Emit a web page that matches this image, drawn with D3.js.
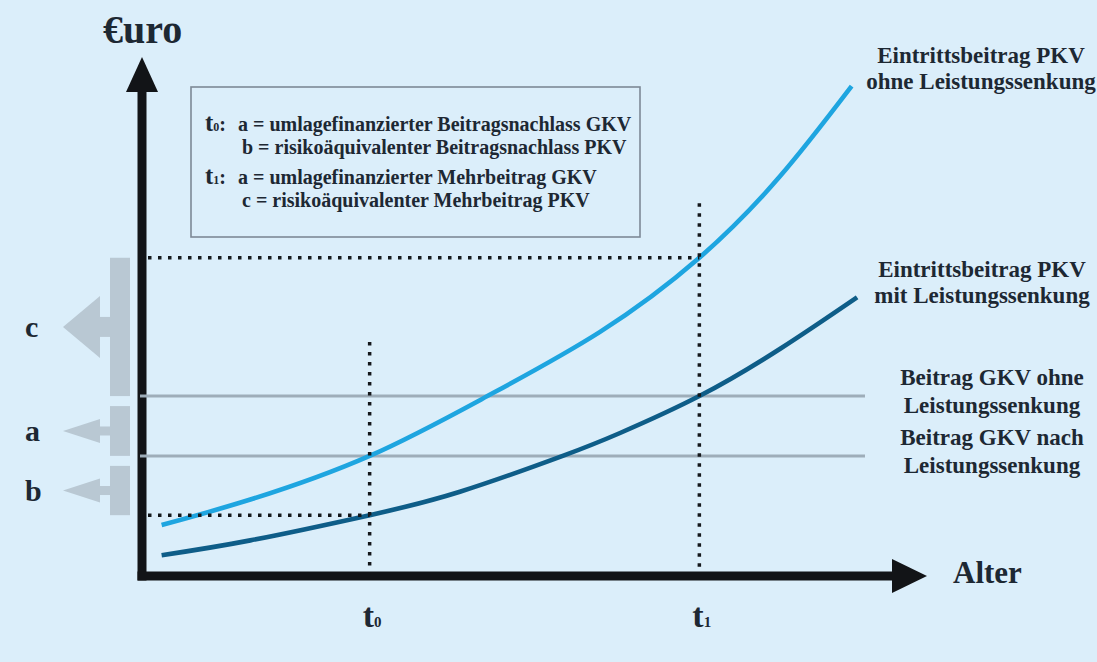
<!DOCTYPE html>
<html>
<head>
<meta charset="utf-8">
<script src="https://cdn.jsdelivr.net/npm/d3@7"></script>
<style>
  html, body { margin: 0; padding: 0; background: #dbeefa; }
  svg { display: block; }
</style>
</head>
<body>
<svg id="chart" width="1097" height="662"></svg>
<script>
// Eintrittsbeitrag PKV ohne Leistungssenkung (Alter, Euro)
const pkvOhneAge = [2.5, 13.8, 29, 44.0, 58.3, 71, 81.3, 90.4];
const pkvOhneVal = [9.8, 14.7, 23.1, 34.6, 46.9, 61.2, 76.9, 94.2];
// Eintrittsbeitrag PKV mit Leistungssenkung
const pkvMitAge = [2.5, 13.8, 29, 40.5, 53.6, 60.9, 71, 81.3, 91.1];
const pkvMitVal = [4.0, 6.85, 11.7, 16.2, 23.1, 27.5, 34.6, 43.7, 53.6];
// GKV-Beiträge (konstant über das Alter)
const gkvOhne = 34.6;
const gkvNach = 23.1;
const gkvEndAge = 92.1;
// Zeitpunkte auf der Altersachse
const tNames = ["t", "t"];
const tSubs = ["0", "1"];
const tAges = [29, 71];
// Legende
const legendHeads = [["t", "0"], ["t", "1"]];
const legendLines = [
  "a = umlagefinanzierter Beitragsnachlass GKV",
  "b = risikoäquivalenter Beitragsnachlass PKV",
  "a = umlagefinanzierter Mehrbeitrag GKV",
  "c = risikoäquivalenter Mehrbeitrag PKV"
];
// Beschriftungen rechts
const labelPkvOhne = ["Eintrittsbeitrag PKV", "ohne Leistungssenkung"];
const labelPkvMit = ["Eintrittsbeitrag PKV", "mit Leistungssenkung"];
const labelGkvOhne = ["Beitrag GKV ohne", "Leistungssenkung"];
const labelGkvNach = ["Beitrag GKV nach", "Leistungssenkung"];

const W = 1097, H = 662;
const FONT = "'Liberation Serif', 'Times New Roman', serif";
const INK = "#1d2833";
const BAR = "#b9c8d3";

const svg = d3.select("#chart");
const x = d3.scaleLinear().domain([0, 100]).range([142, 927]);
const y = d3.scaleLinear().domain([0, 100]).range([576, 56]);

svg.append("rect").attr("width", W).attr("height", H).attr("fill", "#dbeefa");

// Legend box
const lg = svg.append("g");
lg.append("rect").attr("x", 191).attr("y", 87).attr("width", 449).attr("height", 150)
  .attr("fill", "none").attr("stroke", "#7d8996").attr("stroke-width", 1.6);
const headBase = [131, 184];
legendHeads.forEach((h, i) => {
  const t = lg.append("text").attr("x", 205).attr("y", headBase[i])
    .attr("font-family", FONT).attr("font-weight", "bold").attr("fill", INK);
  t.append("tspan").attr("font-size", 25).text(h[0]);
  t.append("tspan").attr("font-size", 12).text(h[1]);
  t.append("tspan").attr("font-size", 20).text(":");
});
const lineBase = [131, 154, 184, 207];
const lineX = [238, 242, 238, 242];
legendLines.forEach((s, i) => {
  lg.append("text").attr("x", lineX[i]).attr("y", lineBase[i])
    .attr("font-family", FONT).attr("font-weight", "bold").attr("font-size", 20)
    .attr("fill", INK).text(s);
});

// Brackets and arrows on the left of the Euro axis
const pkvOhneT1 = pkvOhneVal[pkvOhneAge.indexOf(tAges[1])];
const pkvMitT0 = pkvMitVal[pkvMitAge.indexOf(tAges[0])];
const brackets = [
  { name: "c", top: pkvOhneT1, bot: gkvOhne, gap: 0, shaft: 20, head: 31 },
  { name: "a", top: gkvOhne, bot: gkvNach, gap: 10, shaft: 9, head: 12 },
  { name: "b", top: gkvNach, bot: pkvMitT0, gap: 10, shaft: 9, head: 12 }
];
const bg = svg.append("g");
brackets.forEach(b => {
  const y0 = y(b.top) + b.gap, y1 = y(b.bot);
  const cy = (y0 + y1) / 2;
  bg.append("rect").attr("x", 110).attr("y", y0).attr("width", 20).attr("height", y1 - y0)
    .attr("fill", BAR);
  bg.append("rect").attr("x", 99).attr("y", cy - b.shaft / 2).attr("width", 12).attr("height", b.shaft)
    .attr("fill", BAR);
  bg.append("path").attr("d", `M63,${cy} L100,${cy - b.head} L100,${cy + b.head} Z`).attr("fill", BAR);
  bg.append("text").attr("x", 25).attr("y", cy + 10)
    .attr("font-family", FONT).attr("font-weight", "bold").attr("font-size", 30)
    .attr("fill", INK).text(b.name);
});

// Axes
const ax = svg.append("g").attr("fill", "#121417");
ax.append("line").attr("x1", 142).attr("x2", 142).attr("y1", 580.5).attr("y2", 88)
  .attr("stroke", "#121417").attr("stroke-width", 9);
ax.append("path").attr("d", `M142,${y(100) + 1} L126,92 L158,92 Z`);
ax.append("line").attr("x1", 137.5).attr("x2", 896).attr("y1", 576).attr("y2", 576)
  .attr("stroke", "#121417").attr("stroke-width", 9);
ax.append("path").attr("d", `M${x(100)},576 L892,559 L892,593 Z`);

// GKV lines
[gkvOhne, gkvNach].forEach(v => {
  svg.append("line").attr("x1", 140).attr("x2", x(gkvEndAge))
    .attr("y1", y(v)).attr("y2", y(v))
    .attr("stroke", "#9eadb9").attr("stroke-width", 3);
});

// PKV curves
const line = d3.line().x(d => x(d[0])).y(d => y(d[1])).curve(d3.curveNatural);
svg.append("path").datum(pkvOhneAge.map((a, i) => [a, pkvOhneVal[i]]))
  .attr("d", line).attr("fill", "none").attr("stroke", "#1ea5e0").attr("stroke-width", 4.6);
svg.append("path").datum(pkvMitAge.map((a, i) => [a, pkvMitVal[i]]))
  .attr("d", line).attr("fill", "none").attr("stroke", "#0e5d88").attr("stroke-width", 4.6);

// Dotted guides
const dots = svg.append("g").attr("stroke", "#15181c").attr("stroke-width", 3.5)
  .attr("stroke-dasharray", "3.5,6.5").attr("fill", "none");
dots.append("line").attr("x1", 148).attr("x2", x(tAges[1])).attr("y1", y(pkvOhneT1)).attr("y2", y(pkvOhneT1));
dots.append("line").attr("x1", 148).attr("x2", x(tAges[0])).attr("y1", y(pkvMitT0)).attr("y2", y(pkvMitT0));
const vTop = [45, 71.7];
tAges.forEach((a, i) => {
  dots.append("line").attr("x1", x(a)).attr("x2", x(a)).attr("y1", y(vTop[i])).attr("y2", 570);
});

// Axis titles
svg.append("text").attr("x", 103).attr("y", 43)
  .attr("font-family", FONT).attr("font-weight", "bold").attr("font-size", 40)
  .attr("fill", INK).text("€uro");
svg.append("text").attr("x", 953).attr("y", 583)
  .attr("font-family", FONT).attr("font-weight", "bold").attr("font-size", 31)
  .attr("fill", INK).text("Alter");

// t0 / t1 on the age axis
tAges.forEach((a, i) => {
  const t = svg.append("text").attr("x", x(a) - 7).attr("y", 627)
    .attr("font-family", FONT).attr("font-weight", "bold").attr("fill", INK);
  t.append("tspan").attr("font-size", 34).text(tNames[i]);
  t.append("tspan").attr("font-size", 15).text(tSubs[i]);
});

// Right-hand labels
function label(lines, cx, bases) {
  lines.forEach((s, i) => {
    svg.append("text").attr("x", cx).attr("y", bases[i]).attr("text-anchor", "middle")
      .attr("font-family", FONT).attr("font-weight", "bold").attr("font-size", 23)
      .attr("fill", INK).text(s);
  });
}
label(labelPkvOhne, 981, [63, 89]);
label(labelPkvMit, 982, [277, 303]);
label(labelGkvOhne, 992, [385, 413]);
label(labelGkvNach, 992, [445, 473]);
</script>
</body>
</html>
